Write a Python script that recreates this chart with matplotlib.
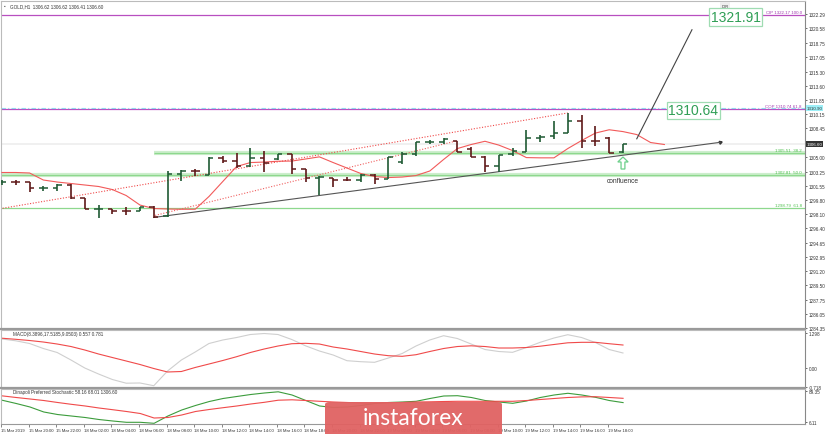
import numpy as np
import matplotlib.pyplot as plt
from matplotlib.patches import FancyBboxPatch, FancyArrow

# ---- data (GOLD H1) ----
opens = [1301.93, 1301.97, 1301.95, 1301.20, 1301.22, 1301.62, 1300.01, 1298.70, 1298.72, 1298.54,
         1298.52, 1299.00, 1297.91, 1302.95, 1303.35, 1302.83, 1304.88, 1304.56, 1303.88, 1304.88,
         1304.76, 1305.36, 1303.55, 1302.43, 1302.47, 1302.26, 1302.26, 1302.83, 1302.35, 1304.36,
         1305.36, 1306.80, 1306.85, 1306.97, 1305.97, 1304.97, 1303.95, 1305.36, 1305.57, 1307.26,
         1307.50, 1307.86, 1309.39, 1306.97, 1307.26, 1305.57]
highs = [1302.26, 1302.26, 1302.02, 1301.45, 1301.74, 1301.70, 1300.05, 1299.21, 1298.75, 1298.93,
         1299.00, 1299.05, 1303.35, 1303.47, 1303.55, 1304.97, 1305.16, 1305.49, 1306.05, 1305.76,
         1305.36, 1305.40, 1303.60, 1302.67, 1302.50, 1302.60, 1302.95, 1302.90, 1304.97, 1305.57,
         1306.78, 1307.09, 1307.26, 1306.97, 1306.17, 1305.09, 1305.24, 1306.05, 1308.30, 1307.60,
         1309.39, 1310.32, 1310.07, 1308.71, 1307.38, 1306.60]
lows = [1301.62, 1301.66, 1300.81, 1300.90, 1300.93, 1299.90, 1298.68, 1297.60, 1298.12, 1298.00,
        1298.50, 1297.60, 1297.72, 1302.14, 1302.67, 1302.83, 1304.28, 1303.64, 1303.76, 1303.23,
        1304.68, 1302.95, 1301.95, 1300.41, 1301.34, 1302.10, 1302.02, 1301.74, 1302.30, 1304.16,
        1305.16, 1306.57, 1306.57, 1305.57, 1304.97, 1303.23, 1303.15, 1305.09, 1305.57, 1306.80,
        1307.20, 1307.86, 1306.05, 1306.37, 1305.49, 1305.49]
closes = [1301.97, 1301.95, 1301.22, 1301.22, 1301.62, 1300.01, 1298.68, 1298.74, 1298.52, 1298.52,
          1299.00, 1297.72, 1302.95, 1303.35, 1303.28, 1304.88, 1304.56, 1303.88, 1304.88, 1304.28,
          1305.36, 1303.55, 1302.43, 1302.59, 1302.26, 1302.22, 1302.83, 1302.35, 1304.97, 1305.36,
          1306.78, 1306.85, 1307.18, 1305.64, 1304.97, 1303.95, 1305.24, 1305.76, 1307.26, 1307.40,
          1307.86, 1309.39, 1306.97, 1306.95, 1305.49, 1306.60]

# moving average (plotted 3 bars forward)
ma_vals = [1303.13, 1303.13, 1303.07, 1302.22, 1301.98, 1301.80, 1301.62, 1301.44, 1301.07, 1300.35,
           1299.20, 1298.78, 1298.72, 1298.69, 1298.69, 1300.23, 1302.04, 1303.85, 1304.33, 1304.39,
           1304.49, 1304.51, 1304.76, 1305.02, 1304.33, 1303.67, 1303.01, 1302.64, 1302.52, 1302.58,
           1302.76, 1303.31, 1304.70, 1306.02, 1306.51, 1306.90, 1306.44, 1305.78, 1304.93, 1304.90,
           1304.90, 1306.02, 1306.99, 1307.89, 1308.29, 1308.07, 1307.71, 1306.75, 1306.51]

macd_main = [1.076, 1.009, 0.909, 0.723, 0.575, 0.297, 0.0, -0.223, -0.427, -0.564,
             -0.556, -0.657, -0.111, 0.297, 0.593, 0.909, 1.039, 1.131, 1.243, 1.280,
             1.243, 1.057, 0.823, 0.631, 0.482, 0.271, 0.234, 0.211, 0.371, 0.538,
             0.816, 1.039, 1.198, 1.094, 0.890, 0.686, 0.612, 0.582, 0.760, 0.953,
             1.113, 1.235, 1.131, 0.946, 0.686, 0.557]
macd_signal = [1.105, 1.065, 1.020, 0.964, 0.890, 0.797, 0.668, 0.519, 0.389, 0.260,
               0.130, -0.019, -0.148, -0.130, 0.019, 0.148, 0.278, 0.419, 0.575, 0.705,
               0.816, 0.901, 0.916, 0.890, 0.779, 0.705, 0.612, 0.519, 0.456, 0.434,
               0.493, 0.612, 0.723, 0.797, 0.823, 0.797, 0.742, 0.742, 0.760, 0.809,
               0.872, 0.935, 0.953, 0.953, 0.901, 0.853]

stoch_k = [64.4, 55.8, 46.4, 33.0, 26.2, 22.2, 18.2, 12.8, 8.8, 5.3,
           5.3, 2.6, 22.2, 38.3, 50.4, 61.1, 69.2, 74.6, 79.9, 84.0,
           87.2, 78.6, 63.8, 49.1, 45.0, 46.4, 50.4, 55.8, 58.5, 59.8,
           61.7, 69.2, 75.9, 76.7, 71.9, 63.8, 59.8, 56.3, 62.5, 71.9,
           78.6, 83.2, 78.6, 72.4, 63.8, 58.2]
stoch_d = [76.2, 71.9, 67.9, 63.8, 58.5, 53.6, 49.1, 43.7, 39.1, 34.3,
           28.9, 16.8, 18.2, 24.9, 34.3, 39.7, 44.5, 49.1, 54.4, 59.0,
           64.6, 65.7, 63.8, 61.7, 59.8, 58.5, 57.1, 57.1, 57.7, 58.5,
           59.8, 60.3, 61.1, 61.7, 61.7, 61.7, 61.7, 61.7, 63.8, 66.5,
           69.2, 71.9, 73.5, 74.0, 71.9, 69.7]

price_ticks = [1322.29, 1320.58, 1318.75, 1317.05, 1315.30, 1313.60, 1311.85, 1310.15, 1308.45,
               1305.00, 1303.25, 1301.55, 1299.80, 1298.10, 1296.40, 1294.65, 1292.95, 1291.20,
               1289.50, 1287.75, 1286.05, 1284.35]

time_pos = list(range(0, 46, 2))
time_labels = ["15 Mar 2019", "15 Mar 20:00", "15 Mar 22:00", "18 Mar 02:00", "18 Mar 04:00",
               "18 Mar 06:00", "18 Mar 08:00", "18 Mar 10:00", "18 Mar 12:00", "18 Mar 14:00",
               "18 Mar 16:00", "18 Mar 18:00", "18 Mar 20:00", "18 Mar 22:00", "19 Mar 02:00",
               "19 Mar 04:00", "19 Mar 06:00", "19 Mar 08:00", "19 Mar 10:00", "19 Mar 12:00",
               "19 Mar 14:00", "19 Mar 16:00", "19 Mar 18:00"]

fib_ret = [(1305.51, "38.2", 11.0), (1302.81, "50.0", -0.1), (1298.79, "61.8", -0.1)]
fib_proj = [(1322.17, "CIP", "100.0"), (1310.74, "COP", "61.8")]
target_hi, target_lo = 1321.91, 1310.64
last_price = 1306.60

# ---- layout (pixel based) ----
W, H = 825, 435
fig = plt.figure(figsize=(W / 100, H / 100), dpi=100)
plt.rcParams['font.family'] = ['Liberation Sans', 'DejaVu Sans']


def box(x0, y0, x1, y1):
    return [x0 / W, 1 - y1 / H, (x1 - x0) / W, (y1 - y0) / H]


ax = fig.add_axes(box(1, 2, 805, 330))
ax_m = fig.add_axes(box(1, 331, 805, 389))
ax_s = fig.add_axes(box(1, 390, 805, 425))

XL = (-0.07, 58.19)
for a in (ax, ax_m, ax_s):
    a.set_xlim(*XL)
    a.yaxis.tick_right()
    a.tick_params(axis='y', labelsize=3.3, length=1.5, width=0.5, pad=1, colors='#333333')
    a.tick_params(axis='x', length=0)
    a.set_xticks([])
    for s in ('left', 'top'):
        a.spines[s].set_color('#bbbbbb')
        a.spines[s].set_linewidth(0.8)
    a.spines['right'].set_color('#888888')
    a.spines['right'].set_linewidth(0.8)
    a.spines['bottom'].set_color('#999999')
    a.spines['bottom'].set_linewidth(1.6)

ax.set_ylim(1284.23, 1323.84)
ax.set_yticks(price_ticks)
ax.set_yticklabels([f"{t:.2f}" for t in price_ticks])

idx = np.arange(len(opens))
o, h, l, c = map(np.array, (opens, highs, lows, closes))
up = c >= o
col = np.where(up, '#1f5a34', '#5e1818')
tw = 0.32
ax.vlines(idx, l, h, colors=col, lw=1.2, zorder=4)
ax.hlines(o, idx - tw, idx, colors=col, lw=1.1, zorder=4)
ax.hlines(c, idx, idx + tw, colors=col, lw=1.1, zorder=4)

# bid line
ax.axhline(last_price, color='#eeeeee', lw=1.2, zorder=1)

# moving average shifted 3 bars
ax.plot(np.arange(len(ma_vals)), ma_vals, color='#f25a5a', lw=0.8, zorder=3)

# channel lines (dotted)
ax.plot([0.05, 41.0], [1298.81, 1310.32], color='#f04848', lw=0.8, ls=(0, (1, 1.5)), zorder=3)
ax.plot([11.1, 33.0], [1297.95, 1306.97], color='#f06060', lw=0.8, ls=(0, (1, 1.5)), zorder=3)

# trend line and projection
ax.plot([11.0, 52.03], [1297.70, 1306.77], color='#555555', lw=0.8, zorder=3)
ax.plot([52.03], [1306.77], marker=(3, 0, -70), ms=2.5, color='#333333')
ax.plot([46.0, 50.0], [1307.2, 1320.37], color='#444444', lw=0.8, zorder=3)

# fibonacci retracement lines
for i, (lvl, pct, x0) in enumerate(fib_ret):
    if i < 2:
        ax.hlines(lvl, x0, XL[1], color='#cdeecd', lw=3.0, zorder=2)
    ax.hlines(lvl, x0, XL[1], color='#8ed88e', lw=0.9, zorder=2)
    ax.text(57.95, lvl + 0.12, f"{lvl:.2f}  {pct}", color='#4cbf4c', fontsize=3.2,
            ha='right', va='bottom', zorder=5)

# projection lines
for lvl, name, pct in fib_proj:
    ax.axhline(lvl, color='#b84fc0', lw=0.9, zorder=2)
    ax.text(57.95, lvl + 0.12, f"{name} {lvl:.2f} {pct}", color='#a23ab0', fontsize=3.2,
            ha='right', va='bottom', zorder=5)
ax.axhline(1310.95, color='#8fd8ee', lw=0.8, ls=(0, (4, 2, 1, 2)), zorder=2)

# target boxes
for val, xc in ((target_hi, 53.15), (target_lo, 50.1)):
    ax.text(xc, val, f"{val:.2f}", color='#2f9e55', fontsize=10,
            ha='center', va='center', zorder=6,
            bbox=dict(boxstyle='square,pad=0.12', fc='white', ec='#9fdcb2', lw=0.9))

ax.text(52.4, 1323.2, "FIB", fontsize=3.4, color='#555555', ha='center', va='center',
        bbox=dict(boxstyle='square,pad=0.3', fc='#eeeeee', ec='none'))

# confluence marker
ax.add_patch(FancyArrow(45.0, 1303.55, 0, 1.45, width=0.28, head_width=0.75, head_length=0.6,
                        length_includes_head=True, fc='white', ec='#6ccf8a', lw=0.9, zorder=6))
ax.text(45.0, 1302.15, "confluence", fontsize=4.8, color='#333333', ha='center', va='center')

# header
ax.text(0.15, 1323.3, "\u25aa", fontsize=3.3, color='#555555', va='center')
ax.text(0.6, 1323.3, "GOLD,H1  1306.62 1306.62 1306.41 1306.60", fontsize=3.3, color='#333333',
        va='center')

# price labels on the axis
ax.text(1.002, (last_price - 1284.23) / (1323.84 - 1284.23), f"{last_price:.2f}",
        transform=ax.transAxes, fontsize=3.2, color='white', va='center', ha='left',
        bbox=dict(boxstyle='square,pad=0.2', fc='#333333', ec='none'), zorder=7, clip_on=False)
ax.text(1.002, (1310.90 - 1284.23) / (1323.84 - 1284.23), "1310.90",
        transform=ax.transAxes, fontsize=3.2, color='#333333', va='center', ha='left',
        bbox=dict(boxstyle='square,pad=0.2', fc='#9ef0f8', ec='none'), zorder=7, clip_on=False)

# ---- MACD ----
ax_m.set_ylim(-0.742, 1.41)
ax_m.set_yticks([1.298, 0.0, -0.718])
ax_m.set_yticklabels(["1.298", "0.00", "-0.718"])
ax_m.plot(idx, macd_main, color='#cfcfcf', lw=0.8)
ax_m.plot(idx, macd_signal, color='#f04a4a', lw=0.8)
ax_m.text(0.8, 1.28, "MACD(8.3896,17.5185,9.0503) 0.557 0.781", fontsize=3.3, color='#333333',
          va='center')

# ---- Stochastic ----
ax_s.set_ylim(0.74, 94.7)
ax_s.set_yticks([89.35, 6.11])
ax_s.set_yticklabels(["89.35", "6.11"])
ax_s.plot(idx, stoch_k, color='#3c9c3c', lw=0.8)
ax_s.plot(idx, stoch_d, color='#f04a4a', lw=0.8)
ax_s.text(0.8, 89.0, "Dinapoli Preferred Stochastic 58.16 68.01 1306.60", fontsize=3.3,
          color='#333333', va='center')
ax_s.set_xticks(np.array(time_pos) - 0.1)
ax_s.set_xticklabels(time_labels, fontsize=3.05, ha='left', color='#333333')
ax_s.tick_params(axis='x', length=2, width=0.5, pad=1.2, colors='#555555', labelcolor='#333333')
ax_s.spines['bottom'].set_linewidth(0.8)

# ---- watermark ----
fig.add_artist(FancyBboxPatch((325 / W, -0.02), 177 / W, (H - 403) / H + 0.02,
                              boxstyle='round,pad=0,rounding_size=0.006',
                              transform=fig.transFigure, fc='#e06262', ec='none', alpha=0.95,
                              zorder=10))
fig.text(413 / W, 1 - 419 / H, "instaforex", fontsize=16.5, color='white', ha='center',
         va='center', family=['Lato', 'DejaVu Sans'], zorder=11)

fig.savefig('out.png', dpi=100)
